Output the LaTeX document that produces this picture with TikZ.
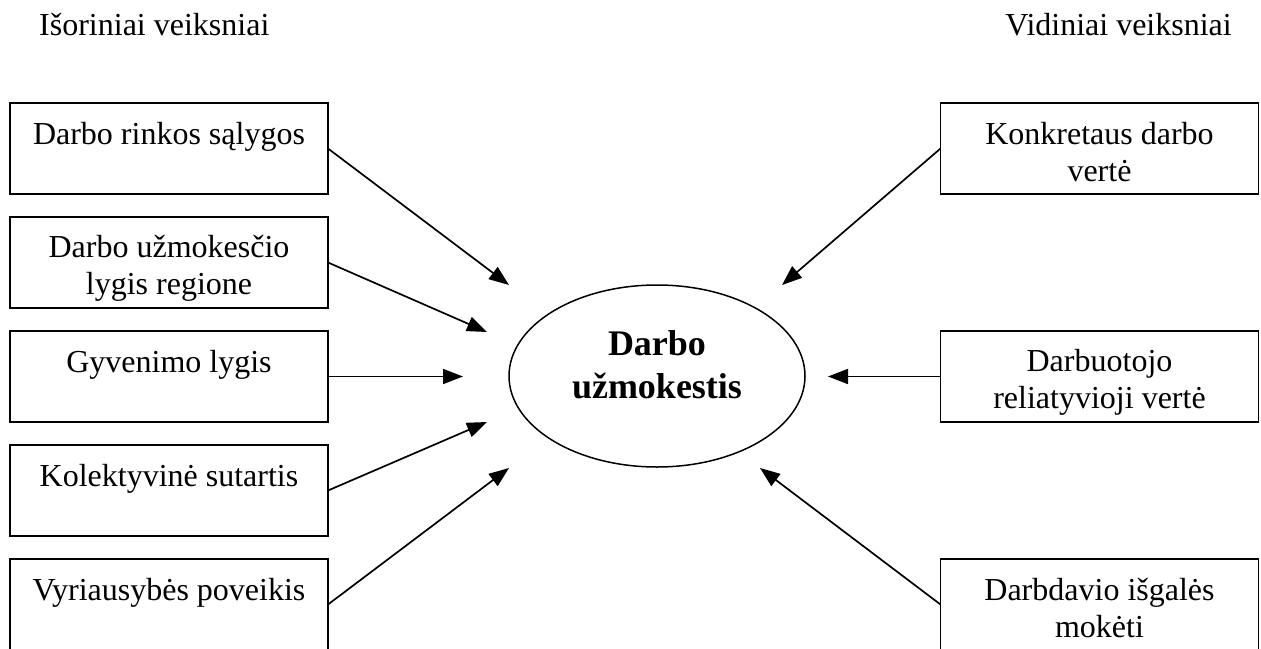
\documentclass[tikz,border=0pt]{standalone}
\usepackage{fontspec}
\setmainfont{Liberation Serif}
\usetikzlibrary{arrows.meta,positioning,shapes.geometric}

% struts that fix the first baseline and the last depth in a box
\newcommand{\topstrut}{\rule{0pt}{34pt}}
\newcommand{\botstrut}{\rule[-5pt]{0pt}{5pt}}

\begin{document}
\begin{tikzpicture}[
  x=1pt, y=-1pt,
  font=\fontsize{32}{37}\selectfont,
  factorbox/.style={
    draw, line width=1.8pt,
    minimum width=318pt, minimum height=91pt,
    inner sep=0pt, outer sep=0pt, align=center
  },
  wagenode/.style={
    draw, ellipse, line width=1.5pt,
    minimum width=296pt, minimum height=182pt,
    inner sep=0pt, outer sep=0pt, align=center,
    font=\bfseries\fontsize{36}{43}\selectfont
  },
  headlbl/.style={inner sep=0pt},
  arr/.style={-{Triangle[length=20pt,width=15pt]}, line width=1.7pt}
]
\useasboundingbox (0,0) rectangle (1261,648);
\clip (0,0) rectangle (1261,648);

% =============================================================
% headings
% =============================================================
\node[headlbl, anchor=base west] (outhead) at (39,35) {Išoriniai veiksniai};
\node[headlbl, anchor=base east] (inhead) at (1232,35) {Vidiniai veiksniai};

% =============================================================
% centre: wage
% =============================================================
\node[wagenode] (wage) at (657,376)
   {\rule{0pt}{25pt}Darbo\\užmokestis\rule[-24pt]{0pt}{24pt}};

% =============================================================
% left column: outer factors
% =============================================================
\node[factorbox] (market) at (169,148.5)
   {\topstrut Darbo rinkos sąlygos\\\botstrut};
\node[factorbox, below=23pt of market] (region)
   {\topstrut Darbo užmokesčio\\lygis regione\botstrut};
\node[factorbox, below=23pt of region] (living)
   {\topstrut Gyvenimo lygis\\\botstrut};
\node[factorbox, below=23pt of living] (contract)
   {\topstrut Kolektyvinė sutartis\\\botstrut};
\node[factorbox, below=23pt of contract] (govt)
   {\topstrut Vyriausybės poveikis\\\botstrut};

% =============================================================
% right column: inner factors
% =============================================================
\node[factorbox] (jobvalue) at (1099.5,148.5)
   {\topstrut Konkretaus darbo\\vertė\botstrut};
\node[factorbox, below=137pt of jobvalue] (relvalue)
   {\topstrut Darbuotojo\\reliatyvioji vertė\botstrut};
\node[factorbox, below=137pt of relvalue] (ability)
   {\topstrut Darbdavio išgalės\\mokėti\botstrut};

% arrow tips round the ellipse
\coordinate (tmarket)   at (509,285);
\coordinate (tregion)   at (487,332);
\coordinate (tliving)   at (463,376.5);
\coordinate (tcontract) at (487,422);
\coordinate (tgovt)     at (509,468);
\coordinate (tjob)      at (782,285);
\coordinate (trel)      at (828,376.5);
\coordinate (tability)  at (760,468);

% =============================================================
% arrows
% =============================================================
\draw[arr] (market.east)   -- (tmarket);
\draw[arr] (region.east)   -- (tregion);
\draw[arr] (living.east)   -- (tliving);
\draw[arr] (contract.east) -- (tcontract);
\draw[arr] (govt.east)     -- (tgovt);

\draw[arr] (jobvalue.west) -- (tjob);
\draw[arr] (relvalue.west) -- (trel);
\draw[arr] (ability.west)  -- (tability);

\end{tikzpicture}
\end{document}
